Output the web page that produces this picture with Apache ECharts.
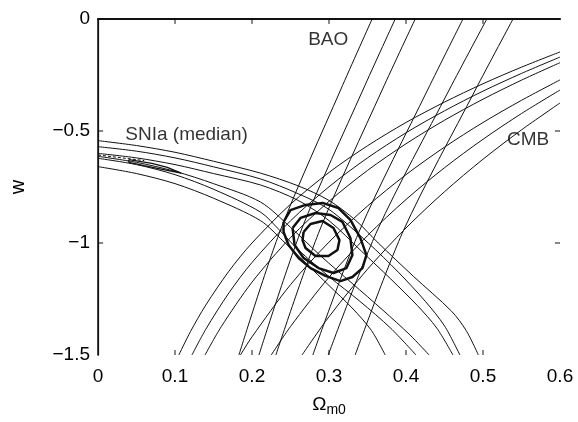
<!DOCTYPE html>
<html>
<head>
<meta charset="utf-8">
<script src="https://cdn.jsdelivr.net/npm/echarts@6/dist/echarts.min.js"></script>
<style>
  html, body { margin: 0; padding: 0; background: #fff; }
  #chart { width: 578px; height: 422px; }
</style>
</head>
<body>
<div id="chart"></div>
<script>
// 坐标轴刻度
var xTicks = [0, 0.1, 0.2, 0.3, 0.4, 0.5, 0.6];
var yTicks = [-1.5, -1, -0.5, 0];

// BAO 约束 (Omega_m0, w)
var bao1 = [[0.356, 0], [0.315, -0.317], [0.237, -0.942], [0.183, -1.5]];
var bao2 = [[0.386, 0], [0.344, -0.317], [0.264, -0.942], [0.209, -1.5]];
var bao3 = [[0.412, 0], [0.369, -0.317], [0.288, -0.942], [0.231, -1.5]];
var bao4 = [[0.474, 0], [0.428, -0.317], [0.340, -0.942], [0.279, -1.5]];
var bao5 = [[0.505, 0], [0.456, -0.317], [0.363, -0.942], [0.299, -1.5]];
var bao6 = [[0.539, 0], [0.490, -0.317], [0.397, -0.942], [0.334, -1.5]];

// CMB 约束
var cmb1 = [[0.105, -1.5], [0.12, -1.396], [0.14, -1.277], [0.17, -1.126], [0.2, -1.0], [0.25, -0.827], [0.3, -0.685], [0.35, -0.566], [0.4, -0.462], [0.45, -0.371], [0.5, -0.289], [0.55, -0.215], [0.6, -0.147]];
var cmb2 = [[0.122, -1.5], [0.14, -1.385], [0.17, -1.223], [0.2, -1.087], [0.25, -0.901], [0.3, -0.749], [0.35, -0.62], [0.4, -0.508], [0.45, -0.41], [0.5, -0.322], [0.55, -0.243], [0.6, -0.17]];
var cmb3 = [[0.139, -1.5], [0.16, -1.374], [0.2, -1.175], [0.25, -0.976], [0.3, -0.814], [0.35, -0.676], [0.4, -0.557], [0.45, -0.452], [0.5, -0.358], [0.55, -0.273], [0.6, -0.195]];
var cmb4 = [[0.185, -1.5], [0.2, -1.419], [0.25, -1.186], [0.3, -0.996], [0.35, -0.835], [0.4, -0.695], [0.45, -0.572], [0.5, -0.462], [0.55, -0.363], [0.6, -0.272]];
var cmb5 = [[0.225, -1.5], [0.25, -1.373], [0.3, -1.153], [0.35, -0.967], [0.4, -0.806], [0.45, -0.664], [0.5, -0.537], [0.55, -0.422], [0.6, -0.317]];
var cmb6 = [[0.265, -1.5], [0.3, -1.329], [0.35, -1.117], [0.4, -0.933], [0.45, -0.771], [0.5, -0.626], [0.55, -0.495], [0.6, -0.375]];

// SNIa 约束
var sn1 = [[0, -0.543], [0.05, -0.565], [0.1, -0.595], [0.15, -0.635], [0.211, -0.688], [0.26, -0.745], [0.3, -0.81], [0.335, -0.9], [0.364, -1.0], [0.41, -1.15], [0.459, -1.304], [0.478, -1.39], [0.494, -1.5]];
var sn2 = [[0, -0.57], [0.05, -0.59], [0.1, -0.62], [0.15, -0.66], [0.211, -0.714], [0.26, -0.78], [0.3, -0.85], [0.351, -1.0], [0.39, -1.13], [0.425, -1.26], [0.45, -1.37], [0.47, -1.5]];
var sn3 = [[0, -0.6], [0.05, -0.62], [0.1, -0.65], [0.15, -0.69], [0.211, -0.741], [0.26, -0.81], [0.3, -0.9], [0.342, -1.036], [0.38, -1.16], [0.415, -1.28], [0.44, -1.38], [0.461, -1.5]];
var sn4 = [[0, -0.613], [0.05, -0.64], [0.1, -0.68], [0.15, -0.735], [0.211, -0.817], [0.25, -0.93], [0.29, -1.06], [0.33, -1.18], [0.37, -1.3], [0.405, -1.41], [0.43, -1.5]];
var sn5 = [[0, -0.622], [0.05, -0.65], [0.1, -0.695], [0.15, -0.76], [0.211, -0.862], [0.235, -0.94], [0.26, -1.03], [0.3, -1.15], [0.34, -1.26], [0.38, -1.38], [0.413, -1.5]];
var sn6 = [[0, -0.659], [0.05, -0.69], [0.1, -0.735], [0.15, -0.8], [0.211, -0.9], [0.24, -0.99], [0.27, -1.09], [0.3, -1.19], [0.33, -1.29], [0.355, -1.39], [0.373, -1.5]];
var snMedianDash = [[0, -0.607], [0.06, -0.632]];
var snMedian = [[0.04, -0.628], [0.07, -0.645], [0.09, -0.662], [0.108, -0.688], [0.085, -0.672], [0.06, -0.655], [0.04, -0.64], [0.04, -0.628]];

// 联合约束 (粗线)
var joint1 = [[0.241, -0.906], [0.250, -0.853], [0.2695, -0.830], [0.2916, -0.821], [0.3123, -0.844], [0.3278, -0.897], [0.3408, -0.978], [0.3486, -1.054], [0.3434, -1.112], [0.3304, -1.152], [0.3149, -1.170], [0.2955, -1.147], [0.276, -1.112], [0.2605, -1.067], [0.2475, -1.009], [0.241, -0.951], [0.241, -0.906]];
var joint2 = [[0.2527, -0.933], [0.263, -0.888], [0.2825, -0.866], [0.302, -0.875], [0.3175, -0.906], [0.3278, -0.978], [0.3304, -1.054], [0.3227, -1.112], [0.3058, -1.134], [0.2864, -1.112], [0.267, -1.067], [0.2553, -1.009], [0.2527, -0.933]];
var joint3 = [[0.267, -0.951], [0.276, -0.915], [0.2916, -0.902], [0.3058, -0.933], [0.3136, -0.987], [0.311, -1.031], [0.2993, -1.058], [0.2825, -1.058], [0.2695, -1.022], [0.2656, -0.987], [0.267, -0.951]];

// 文字标注
var labels = [[0.299, -0.094, 'BAO'], [0.115, -0.518, 'SNIa (median)'], [0.5585, -0.54, 'CMB']];

var ink = '#111';
var font = 'Liberation Sans, Arial, Helvetica, sans-serif';
var xMin = xTicks[0], xMax = xTicks[xTicks.length - 1];
var yMin = yTicks[0], yMax = yTicks[yTicks.length - 1];
var tickX = 0.0066, tickY = 0.022; // 刻度线长度 (约 5px)

function curve(data, width, dashed, smooth) {
  return {
    type: 'line',
    data: data,
    showSymbol: false,
    symbol: 'none',
    smooth: smooth ? 0.3 : false,
    silent: true,
    lineStyle: { color: ink, width: width, type: dashed ? [3, 2] : 'solid' }
  };
}

var series = [];
[bao1, bao2, bao3, bao4, bao5, bao6].forEach(function (d) { series.push(curve(d, 1, false, true)); });
[cmb1, cmb2, cmb3, cmb4, cmb5, cmb6].forEach(function (d) { series.push(curve(d, 1, false, true)); });
[sn1, sn2, sn3, sn4, sn5, sn6].forEach(function (d) { series.push(curve(d, 1, false, true)); });
series.push(curve(snMedianDash, 1, true, false));
series.push(curve(snMedian, 1.3, false, false));
[joint1, joint2, joint3].forEach(function (d) { series.push(curve(d, 2.5, false, false)); });

// 刻度线朝内 (上下左右四边)
xTicks.slice(1, -1).forEach(function (t) {
  series.push(curve([[t, yMin], [t, yMin + tickY]], 1, false, false));
  series.push(curve([[t, yMax], [t, yMax - tickY]], 1, false, false));
});
yTicks.slice(1, -1).forEach(function (t) {
  series.push(curve([[xMin, t], [xMin + tickX, t]], 1, false, false));
  series.push(curve([[xMax, t], [xMax - tickX, t]], 1, false, false));
});

series.push({
  type: 'scatter',
  data: labels,
  symbolSize: 0,
  silent: true,
  label: {
    show: true,
    position: 'inside',
    formatter: function (p) { return p.value[2]; },
    color: '#000',
    fontSize: 19,
    fontFamily: font
  }
});

var axisText = { color: '#000', fontSize: 19, fontFamily: font };

var option = {
  animation: false,
  backgroundColor: '#fff',
  grid: { left: 97, top: 19, right: 18, bottom: 67 },
  xAxis: [{
    type: 'value', min: xMin, max: xMax, interval: 0.1, position: 'bottom',
    axisLine: { show: true, lineStyle: { color: ink, width: 2 } },
    axisTick: { show: false },
    axisLabel: Object.assign({ margin: 12, formatter: function (v) { return v === 0 ? '0' : v.toFixed(1); } }, axisText),
    splitLine: { show: false },
    name: '{a|Ω}{b|m0}',
    nameLocation: 'middle',
    nameGap: 38,
    nameTextStyle: {
      rich: {
        a: { fontSize: 19, fontFamily: font, color: '#000' },
        b: { fontSize: 14, fontFamily: font, color: '#000', padding: [10, 0, 0, 0] }
      }
    }
  }, {
    type: 'value', min: xMin, max: xMax, interval: 0.1, position: 'top',
    axisLine: { show: true, lineStyle: { color: ink, width: 1 } },
    axisTick: { show: false },
    axisLabel: { show: false },
    splitLine: { show: false }
  }],
  yAxis: [{
    type: 'value', min: yMin, max: yMax, interval: 0.5, position: 'left',
    axisLine: { show: true, lineStyle: { color: ink, width: 1.5 } },
    axisTick: { show: false },
    axisLabel: Object.assign({ margin: 8, formatter: function (v) { return v === 0 ? '0' : '\u2212' + Math.abs(v); } }, axisText),
    splitLine: { show: false },
    name: 'w',
    nameLocation: 'middle',
    nameRotate: 90,
    nameGap: 70,
    nameTextStyle: { fontSize: 20, fontFamily: font, color: '#000' }
  }, {
    type: 'value', min: yMin, max: yMax, interval: 0.5, position: 'right',
    axisLine: { show: true, lineStyle: { color: ink, width: 1.2 } },
    axisTick: { show: false },
    axisLabel: { show: false },
    splitLine: { show: false }
  }],
  series: series
};

var myChart = echarts.init(document.getElementById('chart'));
myChart.setOption(option);
</script>
</body>
</html>
